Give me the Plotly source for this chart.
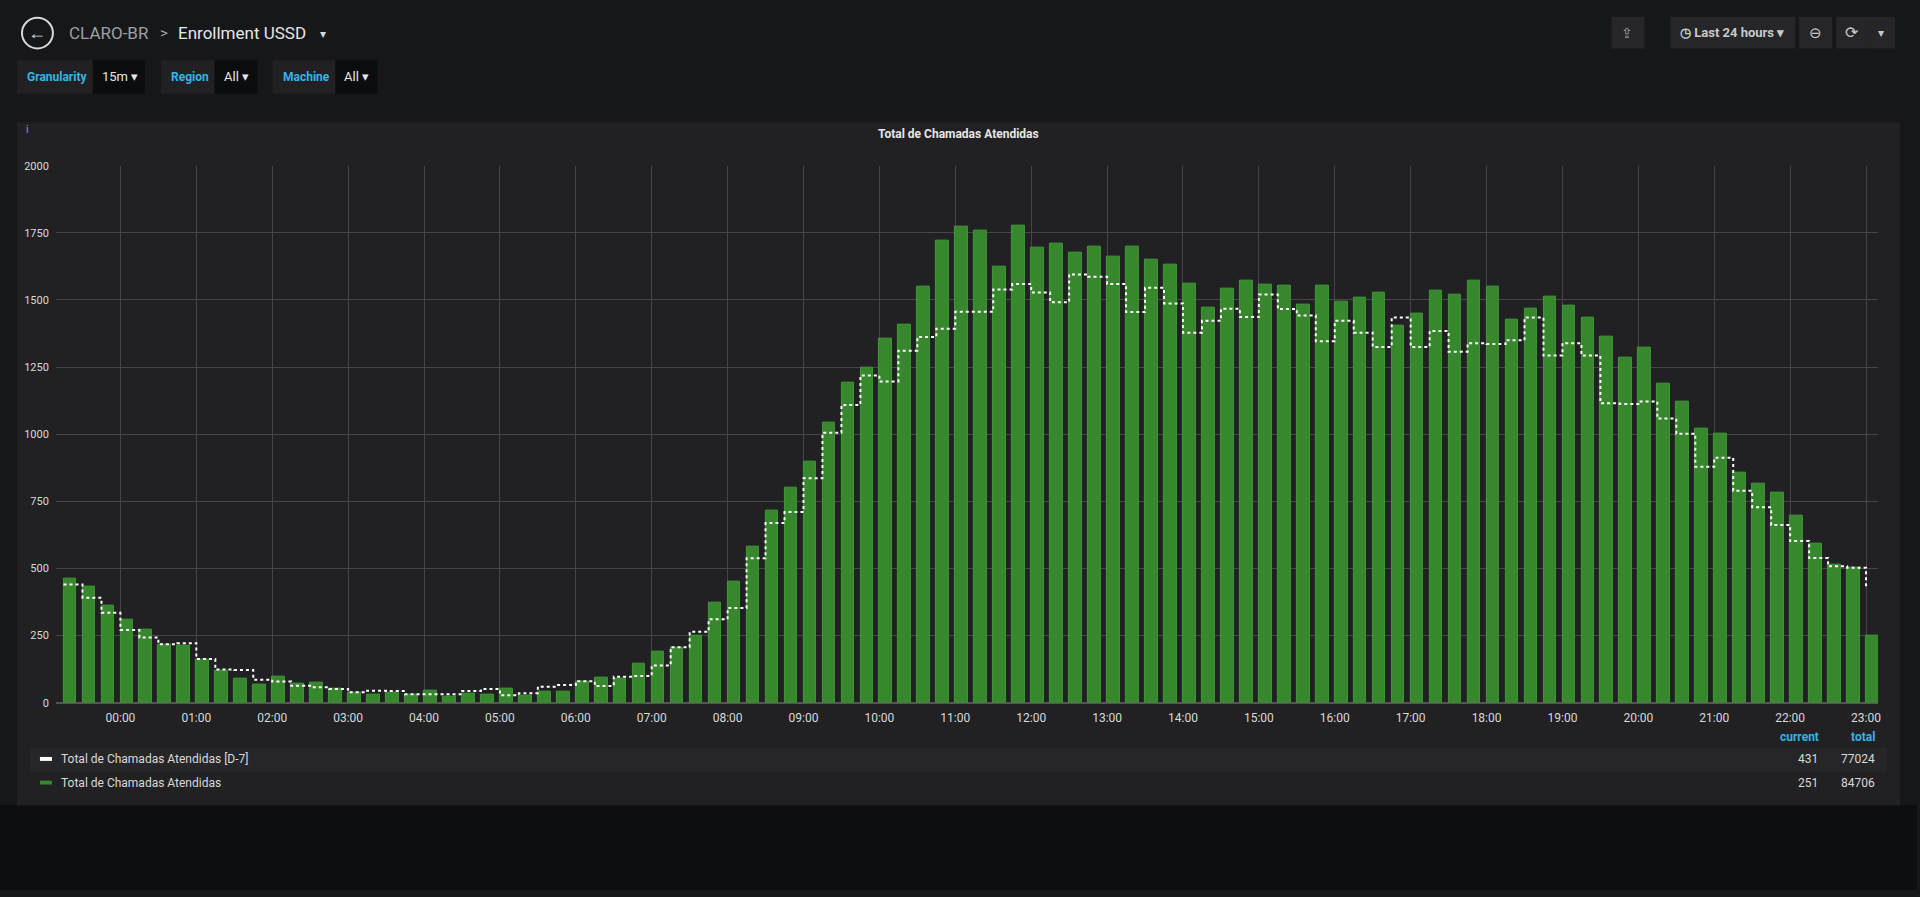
import plotly.graph_objects as go
import pandas as pd

start = pd.Timestamp("2018-06-04 23:15")
times = [start + pd.Timedelta(minutes=15 * i) for i in range(96)]

current = [461, 432, 363, 311, 274, 218, 211, 162, 119, 89, 66, 98, 70, 74, 51, 39,
           30, 39, 32, 45, 22, 35, 30, 53, 27, 42, 42, 79, 94, 89, 145, 191,
           207, 249, 372, 450, 583, 714, 800, 897, 1044, 1193, 1249, 1356, 1408, 1549, 1722, 1772,
           1757, 1625, 1778, 1694, 1710, 1675, 1699, 1661, 1699, 1651, 1632, 1561, 1472, 1542, 1570, 1557,
           1552, 1483, 1554, 1495, 1508, 1526, 1405, 1448, 1535, 1519, 1571, 1549, 1427, 1466, 1512, 1477,
           1435, 1362, 1286, 1323, 1189, 1122, 1019, 1001, 856, 817, 784, 696, 592, 513, 503, 251]

d7 = [440, 391, 335, 271, 243, 218, 222, 163, 124, 122, 86, 79, 63, 58, 51, 39,
      45, 44, 32, 32, 32, 44, 51, 28, 35, 60, 66, 80, 62, 97, 100, 139,
      207, 264, 311, 353, 538, 669, 710, 836, 1005, 1109, 1219, 1196, 1311, 1362, 1393, 1456,
      1456, 1539, 1559, 1528, 1491, 1595, 1586, 1559, 1455, 1545, 1487, 1378, 1422, 1467, 1436, 1520,
      1466, 1442, 1346, 1422, 1378, 1325, 1435, 1325, 1384, 1307, 1339, 1336, 1350, 1435, 1293, 1339,
      1293, 1115, 1112, 1122, 1058, 1002, 879, 912, 789, 728, 662, 602, 539, 508, 503, 431]

series_names = ["Total de Chamadas Atendidas [D-7]", "Total de Chamadas Atendidas"]
legend_current = ["431", "251"]
legend_total = ["77024", "84706"]
tick_labels = [f"{h:02d}:00" for h in range(24)]
tick_vals = [pd.Timestamp("2018-06-05") + pd.Timedelta(hours=h) for h in range(24)]
y_ticks = [0, 250, 500, 750, 1000, 1250, 1500, 1750, 2000]

W, H = 1920, 897
def px(x): return x / W
def py(y): return 1 - y / H

fig = go.Figure()
fig.add_trace(go.Bar(x=times, y=current, offset=0, width=10 * 60 * 1000,
                     marker=dict(color="#37872D", line=dict(color="#3F9A34", width=1)),
                     name=series_names[1], showlegend=False))
fig.add_trace(go.Scatter(x=times, y=d7, mode="lines", line=dict(shape="hv", color="white", width=2, dash="dot"),
                         name=series_names[0], showlegend=False))

shapes = []
def rect(x0, y0, x1, y1, color, line=None):
    shapes.append(dict(type="rect", xref="paper", yref="paper", x0=px(x0), x1=px(x1), y0=py(y1), y1=py(y0),
                       fillcolor=color, line=dict(width=0) if line is None else line, layer="below"))

# page bottom darker
rect(0, 811, 1920, 897, "#0d0e10")
# panel
rect(17, 118, 1903, 811, "#212124")
# legend highlighted row
rect(30, 753, 1890, 777, "#262628")
# header controls
rect(17, 55, 93, 89, "#212124"); rect(93, 55, 145, 89, "#0b0c0e")
rect(161, 55, 215, 89, "#212124"); rect(215, 55, 258, 89, "#0b0c0e")
rect(273, 55, 336, 89, "#212124"); rect(336, 55, 378, 89, "#0b0c0e")
rect(1614, 11, 1647, 43, "#262628")
rect(1673, 11, 1798, 43, "#262628")
rect(1802, 11, 1835, 43, "#262628")
rect(1839, 11, 1871, 43, "#262628")
rect(1871, 11, 1898, 43, "#262628")
shapes.append(dict(type="circle", xref="paper", yref="paper", x0=px(22), x1=px(53), y0=py(43), y1=py(12),
                   line=dict(color="#d8d9da", width=2)))
# legend swatches
rect(40, 762, 52, 766, "#ffffff")
rect(40, 786, 52, 790, "#37872D")

ann = []
def text(x, y, s, size=12, color="#d8d9da", xanchor="left", bold=False):
    ann.append(dict(xref="paper", yref="paper", x=px(x), y=py(y), text=f"<b>{s}</b>" if bold else s,
                    showarrow=False, xanchor=xanchor, yanchor="middle",
                    font=dict(size=size, color=color, family="Roboto")))

text(37, 27, "←", 18, "#d8d9da", "center", True)
text(67, 27, "CLARO-BR", 17, "#9fa1a4")
text(158, 27, ">", 15, "#9fa1a4")
text(176, 27, "Enrollment USSD", 17, "#e6e6e6")
text(318, 28, "▾", 12, "#d8d9da")
text(25, 72, "Granularity", 12, "#33b5e5", bold=True)
text(100, 72, "15m ▾", 13, "#e6e6e6")
text(169, 72, "Region", 12, "#33b5e5", bold=True)
text(222, 72, "All ▾", 13, "#e6e6e6")
text(281, 72, "Machine", 12, "#33b5e5", bold=True)
text(343, 72, "All ▾", 13, "#e6e6e6")
text(1630, 27, "⇪", 14, "#9fa1a4", "center")
text(1735, 27, "◷ Last 24 hours ▾", 13, "#c8c9ca", "center", True)
text(1818, 27, "⊖", 15, "#c8c9ca", "center")
text(1855, 27, "⟳", 16, "#c8c9ca", "center")
text(1884, 27, "▾", 12, "#c8c9ca", "center")
text(24, 125, "i", 10, "#9fa1a4")
text(960, 130, "Total de Chamadas Atendidas", 12, "#e6e6e6", "center", True)
text(1824, 742, "current", 12, "#33b5e5", "right", True)
text(1880, 742, "total", 12, "#33b5e5", "right", True)
for i, yy in enumerate([764, 788]):
    text(59, yy, series_names[i], 12, "#d8d9da")
    text(1823, yy, legend_current[i], 12, "#d8d9da", "right")
    text(1880, yy, legend_total[i], 12, "#d8d9da", "right")

fig.update_layout(
    width=W, height=H, margin=dict(l=0, r=0, t=0, b=0),
    paper_bgcolor="#161719", plot_bgcolor="rgba(0,0,0,0)",
    shapes=shapes, annotations=ann, bargap=0,
    xaxis=dict(domain=[px(56), px(1881)],
               range=[pd.Timestamp("2018-06-04 23:09"), pd.Timestamp("2018-06-05 23:09:30")],
               tickvals=tick_vals, ticktext=tick_labels, showgrid=True, gridcolor="#464648", gridwidth=1,
               tickfont=dict(size=12, color="#d8d9da", family="Roboto"), showline=False, zeroline=False,
               ticks="", ticklabelstandoff=6),
    yaxis=dict(domain=[py(707), py(162)], range=[0, 2000], tickvals=y_ticks, showgrid=True,
               gridcolor="#464648", tickfont=dict(size=11, color="#d8d9da", family="Roboto"),
               zeroline=True, zerolinecolor="#555", ticks="", ticklabelstandoff=6),
    font=dict(family="Roboto"),
)
fig.write_html("out.html", config={"displayModeBar": False},
               post_script="document.body.style.margin='0';document.body.style.overflow='hidden';document.body.style.background='#161719';")
